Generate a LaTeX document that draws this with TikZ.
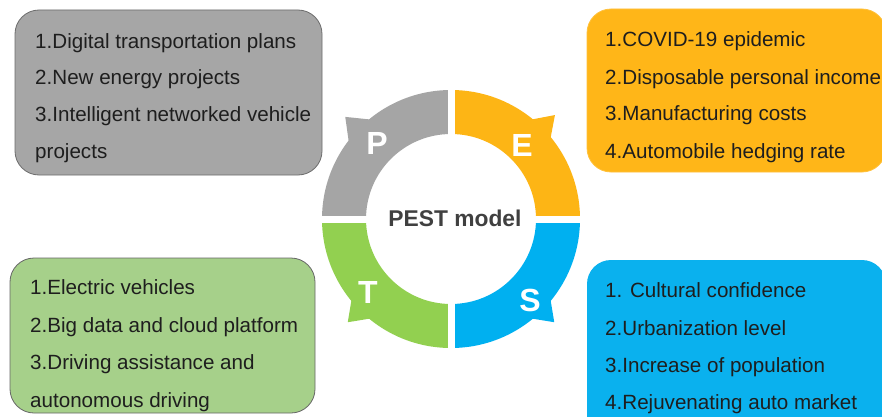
\documentclass[tikz,border=0pt]{standalone}
\usepackage{fontspec}
\setmainfont{Liberation Sans}
\newfontfamily\serifp{Liberation Serif}
\definecolor{ringgray}{HTML}{A5A5A5}
\definecolor{ringorange}{HTML}{FDB515}
\definecolor{ringgreen}{HTML}{92D050}
\definecolor{ringblue}{HTML}{00B0F0}
\definecolor{boxgray}{HTML}{A6A6A6}
\definecolor{boxorange}{HTML}{FFB618}
\definecolor{boxgreen}{HTML}{A6D08A}
\definecolor{boxblue}{HTML}{0AB1EE}
\definecolor{txt}{HTML}{1E1E1E}
\begin{document}
\begin{tikzpicture}[x=1pt,y=1pt,
  infobox/.style={rounded corners=24pt},
  item/.style={anchor=base west,inner sep=0pt,text=txt,font=\fontsize{20.6}{24}\selectfont},
  letter/.style={text=white,font=\fontsize{32}{36}\selectfont\bfseries,inner sep=0pt},
]
\useasboundingbox (0,0) rectangle (882,416);
\fill[white] (0,0) rectangle (882,416);
% top fragment
\node[anchor=base,inner sep=0pt,font=\serifp\fontsize{26}{30}\selectfont] (frag) at (245,421) {p};
% boxes
\path[infobox,fill=boxgray,draw=gray!85!black,line width=0.8pt] (15,241) rectangle (322,406);
\node (gbox) at (168,323) {};
\path[infobox,fill=boxorange,draw=boxorange!85!white,line width=0.8pt] (587,244) rectangle (886,407);
\node (obox) at (735,325) {};
\path[infobox,fill=boxgreen,draw=gray!80!black,line width=0.8pt] (10,3) rectangle (315,158);
\node (grbox) at (162,80) {};
\path[infobox,fill=boxblue] (587,-30) rectangle (886,156);
\node (bbox) at (735,60) {};
% ring
\begin{scope}[shift={(451,197)}]
  \fill[ringgray] (180:129) arc[start angle=180,end angle=90,radius=129] -- (90:85) arc[start angle=90,end angle=180,radius=85] -- cycle;
  \fill[ringgray] (129:128) -- (136:147) -- (143:128) -- cycle;
  \fill[ringorange] (90:129) arc[start angle=90,end angle=0,radius=129] -- (0:85) arc[start angle=0,end angle=90,radius=85] -- cycle;
  \fill[ringorange] (39:128) -- (45:147) -- (51:128) -- cycle;
  \fill[ringblue] (0:129) arc[start angle=0,end angle=-90,radius=129] -- (-90:85) arc[start angle=-90,end angle=0,radius=85] -- cycle;
  \fill[ringblue] (-51:128) -- (-45:146) -- (-39:128) -- cycle;
  \fill[ringgreen] (-90:129) arc[start angle=-90,end angle=-180,radius=129] -- (-180:85) arc[start angle=-180,end angle=-90,radius=85] -- cycle;
  \fill[ringgreen] (219:128) -- (225:146) -- (231:128) -- cycle;
  \fill[white] (-3.5,-150) rectangle (3.5,150);
  \fill[white] (-150,-3.5) rectangle (150,3.5);
\end{scope}
\node[letter] (P) at (377,273) {P};
\node[letter] (E) at (522,271) {E};
\node[letter] (T) at (368,124) {T};
\node[letter] (S) at (530,116) {S};
\node[text=black!75,font=\fontsize{22.8}{26}\selectfont\bfseries] (pest) at (455,198) {PEST model};
% gray texts
\node[item] (p1) at (35,367) {1.Digital transportation plans};
\node[item] (p2) at (35,332) {2.New energy projects};
\node[item] (p3) at (35,295) {3.Intelligent networked vehicle};
\node[item] (p4) at (35,258) {projects};
% orange texts
\node[item] (e1) at (605,369) {1.COVID-19 epidemic};
\node[item] (e2) at (605,332) {2.Disposable personal income};
\node[item] (e3) at (605,296) {3.Manufacturing costs};
\node[item] (e4) at (605,258) {4.Automobile hedging rate};
% green texts
\node[item] (t1) at (30,122) {1.Electric vehicles};
\node[item] (t2) at (30,84) {2.Big data and cloud platform};
\node[item] (t3) at (30,47) {3.Driving assistance and};
\node[item] (t4) at (30,9) {autonomous driving};
% blue texts
\node[item] (s1) at (605,119) {1. Cultural confidence};
\node[item] (s2) at (605,81) {2.Urbanization level};
\node[item] (s3) at (605,44) {3.Increase of population};
\node[item] (s4) at (605,7) {4.Rejuvenating auto market};
\end{tikzpicture}
\end{document}
